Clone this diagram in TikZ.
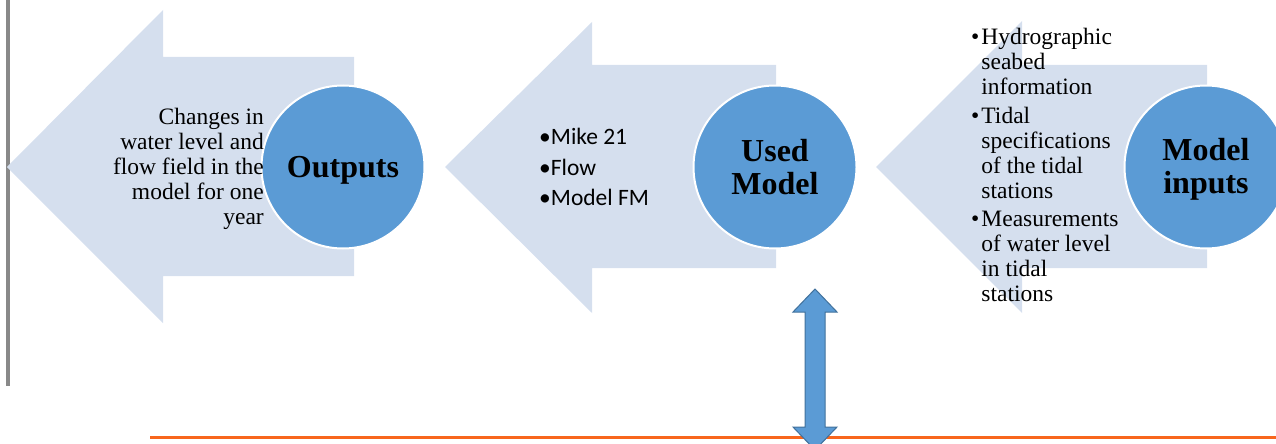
\documentclass[tikz,border=0pt]{standalone}
\usepackage{fontspec}
\setmainfont{Liberation Serif}
\newfontfamily\calib{Carlito}
\definecolor{arrowfill}{HTML}{D5DFEE}
\definecolor{circfill}{HTML}{5B9BD5}
\definecolor{darrowline}{HTML}{41719C}
\definecolor{orangeline}{HTML}{F8661C}
\definecolor{grayline}{HTML}{898989}
\tikzset{
  bigarrow/.style={fill=arrowfill, draw=none},
  circ/.style={circle, fill=circfill, draw=white, line width=2pt, minimum size=163pt, inner sep=0pt},
  circtext/.style={font=\fontsize{32}{33}\selectfont\bfseries, align=center, inner sep=0pt},
  bodytext/.style={font=\fontsize{23.5}{25}\selectfont, inner sep=0pt},
}
\begin{document}
\begin{tikzpicture}[x=1pt,y=-1pt]
\useasboundingbox (0,0) rectangle (1276,444);
\clip (0,0) rectangle (1276,444);
% gray vertical line
\coordinate (gtop) at (8,0);
\coordinate (gbot) at (8,386);
\draw[grayline, line width=3.5pt] (gtop) -- (gbot);
% big arrows
\fill[bigarrow] (7,167) -- (163,10) -- (163,57) -- (354,57) -- (354,276) -- (163,276) -- (163,323) -- cycle;
\fill[bigarrow] (445,167) -- (592,22) -- (592,65) -- (776,65) -- (776,268) -- (592,268) -- (592,313) -- cycle;
\fill[bigarrow] (876,167) -- (1022,21) -- (1022,65) -- (1207,65) -- (1207,268) -- (1022,268) -- (1022,313) -- cycle;
% circles
\node[circ] (out) at (343,167) {};
\node[circ] (used) at (775,167) {};
\node[circ] (inp) at (1206,167) {};
\node[circtext] (outl) at ([yshift=-3pt]out.center) {Outputs};
\node[circtext] (usedl) at (used.center) {Used\\Model};
\node[circtext] (inpl) at ([yshift=-2pt]inp.center) {Model\\inputs};
% texts
\node[bodytext, align=right, anchor=east] (t1) at (264,169) {Changes in\\water level and\\flow field in the\\model for one\\year};
\node[bodytext, anchor=west, font=\calib\fontsize{23.5}{30.5}\selectfont, align=left] (t2) at (539,167) {\textbullet Mike 21\\\textbullet Flow\\\textbullet Model FM};
\node[bodytext, anchor=west] (t3) at (971,168) {\begin{tabular}{@{}l@{\hspace{2pt}}l@{}}
\textbullet & Hydrographic\\
 & seabed\\
 & information\\[3.5pt]
\textbullet & Tidal\\
 & specifications\\
 & of the tidal\\
 & stations\\[3.5pt]
\textbullet & Measurements\\
 & of water level\\
 & in tidal\\
 & stations
\end{tabular}};
% orange line
\coordinate (oleft) at (150,437);
\coordinate (oright) at (1276,437);
\draw[orangeline, line width=3pt] (oleft) -- (oright);
% double arrow
\draw[fill=circfill, draw=darrowline, line width=1pt]
  (815,289) -- (837,312) -- (825,312) -- (825,427) -- (837,427) -- (815,450)
  -- (793,427) -- (805,427) -- (805,312) -- (793,312) -- cycle;
\end{tikzpicture}
\end{document}
